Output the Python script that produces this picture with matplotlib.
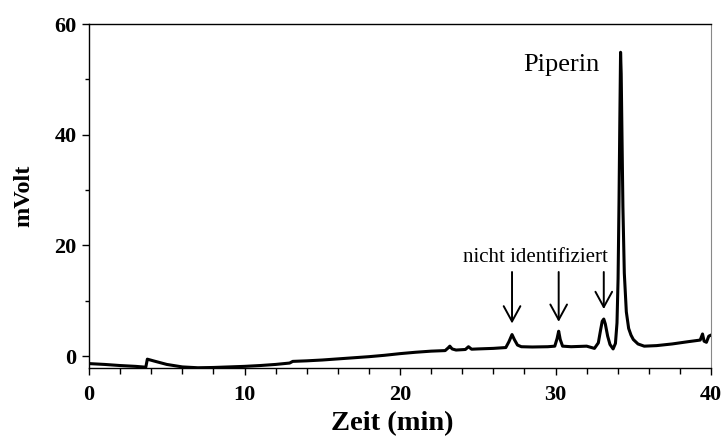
import matplotlib
matplotlib.use("Agg")
import matplotlib.pyplot as plt
from matplotlib.ticker import MultipleLocator

# Chromatogram trace: retention time (min) and detector signal (mV)
time_min = [
    0.0, 1.0, 2.0, 3.0, 3.65, 3.75, 4.2, 5.0, 6.0, 7.0, 8.0, 9.0, 10.0,
    11.0, 12.0, 12.9, 13.1, 14.0, 15.0, 16.0, 17.0, 18.0, 19.0, 20.0,
    21.0, 22.0, 22.9, 23.1, 23.2, 23.35, 23.6, 24.2, 24.4, 24.6, 25.0,
    26.0, 26.8, 27.0, 27.2, 27.35, 27.55, 27.8, 28.5, 29.5, 29.95, 30.1,
    30.2, 30.3, 30.45, 31.0, 32.0, 32.5, 32.75, 32.9, 33.0, 33.1, 33.2,
    33.35, 33.5, 33.7, 33.85, 33.95, 34.02, 34.08, 34.13, 34.18, 34.22,
    34.27, 34.33, 34.42, 34.55, 34.7, 34.85, 35.0, 35.3, 35.7, 36.5,
    37.5, 38.5, 39.3, 39.45, 39.55, 39.7, 39.85, 40.0,
]
signal_mv = [
    -1.35, -1.5, -1.7, -1.85, -2.0, -0.55, -0.9, -1.5, -1.95, -2.1, -2.05,
    -1.95, -1.85, -1.7, -1.5, -1.25, -0.95, -0.85, -0.7, -0.5, -0.3, -0.1,
    0.15, 0.45, 0.7, 0.9, 1.0, 1.5, 1.8, 1.3, 1.1, 1.2, 1.7, 1.25, 1.3,
    1.4, 1.55, 2.6, 3.9, 3.0, 2.0, 1.7, 1.65, 1.7, 1.8, 3.2, 4.5, 3.0,
    1.8, 1.7, 1.8, 1.4, 2.4, 4.8, 6.3, 6.7, 5.8, 3.6, 2.1, 1.3, 2.3, 6.0,
    14.0, 28.0, 42.0, 54.9, 51.0, 40.0, 27.0, 15.0, 8.0, 5.0, 3.8, 3.0,
    2.2, 1.8, 1.9, 2.2, 2.6, 2.9, 4.0, 2.7, 2.5, 3.6, 3.8,
]

# Annotated peaks: arrow tail (time, mV) and arrow tip (time, mV)
arrow_times = [27.2, 30.2, 33.1]
arrow_tail_mv = [15.2, 15.2, 15.2]
arrow_tip_mv = [5.9, 6.2, 8.5]

fig = plt.figure(figsize=(7.25, 4.37), dpi=100)
ax = fig.add_axes([0.1228, 0.1572, 0.858, 0.7878])

ax.plot(time_min, signal_mv, color="black", lw=2.2, solid_joinstyle="round")

ax.set_xlim(0, 40)
ax.set_ylim(-2.2, 60)

serif = ["Liberation Serif", "DejaVu Serif"]

ax.xaxis.set_major_locator(MultipleLocator(10))
ax.xaxis.set_minor_locator(MultipleLocator(2))
ax.yaxis.set_major_locator(MultipleLocator(20))
ax.yaxis.set_minor_locator(MultipleLocator(10))
ax.tick_params(axis="both", which="major", direction="out", length=5, width=1)
ax.tick_params(axis="both", which="minor", direction="out", length=3, width=1)
ax.tick_params(axis="x", which="minor", length=4)
ax.tick_params(axis="y", which="both", right=False)
ax.tick_params(axis="x", which="both", top=False)

for lab in ax.get_xticklabels() + ax.get_yticklabels():
    lab.set_fontfamily(serif)
    lab.set_fontweight("bold")
    lab.set_fontsize(16)
ax.tick_params(axis="x", pad=7)
ax.tick_params(axis="y", pad=4)

ax.set_xlabel("Zeit (min)", family=serif, fontweight="bold", fontsize=20.5, labelpad=2)
ax.xaxis.set_label_coords(0.488, -0.125, transform=ax.transAxes)
ax.xaxis.label.set_va("top")
ax.set_ylabel("mVolt", family=serif, fontweight="bold", fontsize=17.5, labelpad=14)

ax.spines["right"].set_color("#888888")
for side in ("left", "bottom", "top"):
    ax.spines[side].set_color("black")
    ax.spines[side].set_linewidth(1.0)

ax.text(30.35, 52.6, "Piperin", family=serif, fontsize=19,
        ha="center", va="center")
ax.text(28.7, 17.9, "nicht identifiziert", family=serif, fontsize=15,
        ha="center", va="center")

for t, y0, y1 in zip(arrow_times, arrow_tail_mv, arrow_tip_mv):
    ax.annotate("", xy=(t, y1), xytext=(t, y0),
                arrowprops=dict(arrowstyle="->,head_length=1.1,head_width=0.6",
                                color="black", lw=1.4, shrinkA=0, shrinkB=0))

fig.savefig("out.png", dpi=100)
